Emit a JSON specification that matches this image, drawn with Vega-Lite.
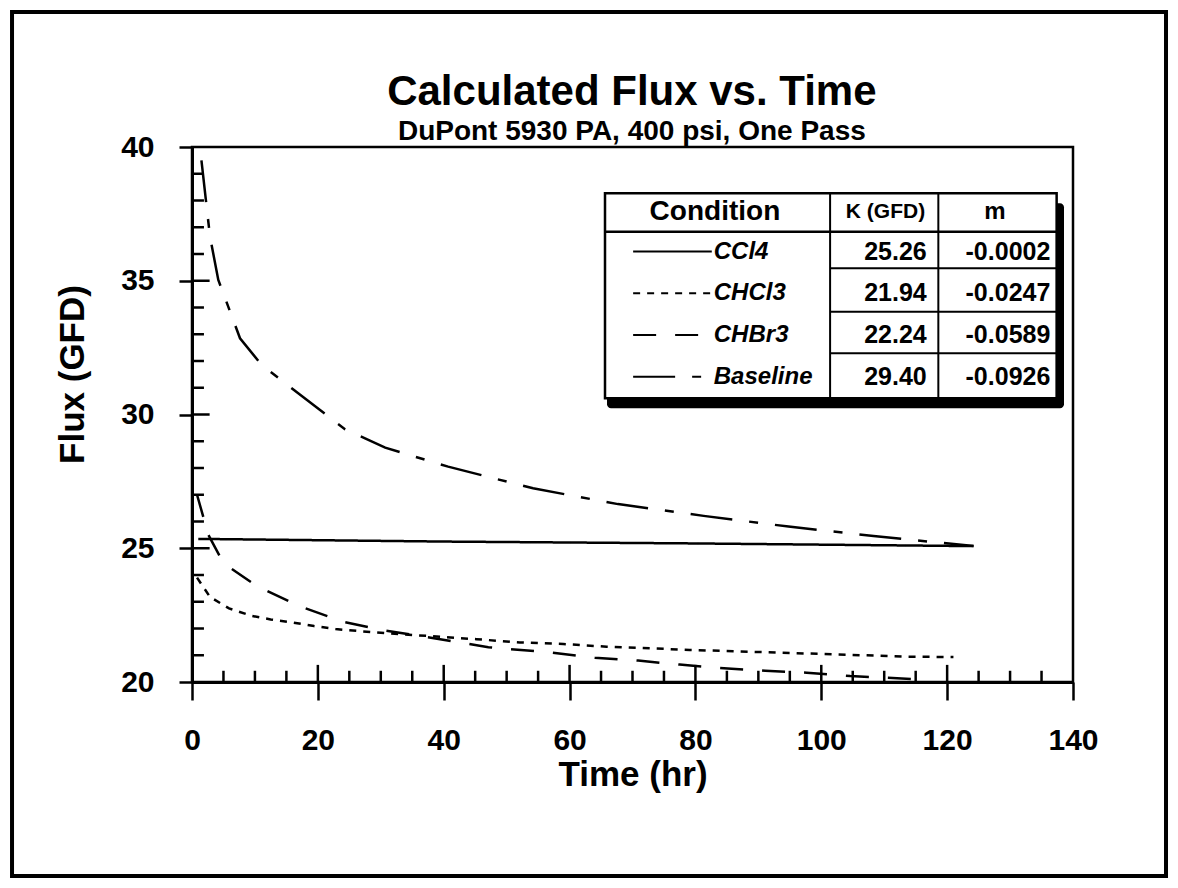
{
  "$schema": "https://vega.github.io/schema/vega-lite/v6.json",
  "width": 881,
  "height": 535,
  "autosize": {"type": "none"},
  "padding": {"left": 192, "top": 147, "right": 105, "bottom": 206},
  "background": "white",
  "config": {
    "view": {"stroke": "black", "strokeWidth": 2.5},
    "font": "Liberation Sans",
    "axis": {"grid": false, "domainColor": "black", "domainWidth": 3, "tickColor": "black", "tickWidth": 2.5, "labelColor": "black", "titleColor": "black", "labelFont": "Liberation Sans", "labelFontWeight": "bold", "labelFontSize": 30, "titleFont": "Liberation Sans", "titleFontWeight": "bold", "titleFontSize": 35, "labelFlush": false, "labelOverlap": false}
  },
  "datasets": {
    "series": [
      {"series": "CCl4", "t": 1.0, "flux": 25.35},
      {"series": "CCl4", "t": 40, "flux": 25.25},
      {"series": "CCl4", "t": 80, "flux": 25.18},
      {"series": "CCl4", "t": 124.2, "flux": 25.08},
      {"series": "CHCl3", "t": 0.8, "flux": 23.9},
      {"series": "CHCl3", "t": 2.86, "flux": 23.18},
      {"series": "CHCl3", "t": 5.88, "flux": 22.75},
      {"series": "CHCl3", "t": 9.5, "flux": 22.47},
      {"series": "CHCl3", "t": 12.5, "flux": 22.34},
      {"series": "CHCl3", "t": 15.9, "flux": 22.23},
      {"series": "CHCl3", "t": 19.4, "flux": 22.09},
      {"series": "CHCl3", "t": 22.8, "flux": 21.98},
      {"series": "CHCl3", "t": 26.2, "flux": 21.91},
      {"series": "CHCl3", "t": 30, "flux": 21.84},
      {"series": "CHCl3", "t": 35, "flux": 21.76},
      {"series": "CHCl3", "t": 40, "flux": 21.68},
      {"series": "CHCl3", "t": 45.2, "flux": 21.6},
      {"series": "CHCl3", "t": 52.1, "flux": 21.48},
      {"series": "CHCl3", "t": 59, "flux": 21.42},
      {"series": "CHCl3", "t": 65.9, "flux": 21.32},
      {"series": "CHCl3", "t": 72.8, "flux": 21.26},
      {"series": "CHCl3", "t": 79.1, "flux": 21.2},
      {"series": "CHCl3", "t": 86, "flux": 21.15},
      {"series": "CHCl3", "t": 92.9, "flux": 21.1},
      {"series": "CHCl3", "t": 99.8, "flux": 21.05},
      {"series": "CHCl3", "t": 106.7, "flux": 21.0},
      {"series": "CHCl3", "t": 113, "flux": 20.95},
      {"series": "CHCl3", "t": 121, "flux": 20.93},
      {"series": "CHBr3", "t": 0.8, "flux": 27.0},
      {"series": "CHBr3", "t": 2.6, "flux": 25.5},
      {"series": "CHBr3", "t": 5.0, "flux": 24.44},
      {"series": "CHBr3", "t": 10.3, "flux": 23.59},
      {"series": "CHBr3", "t": 17.0, "flux": 22.84},
      {"series": "CHBr3", "t": 24.0, "flux": 22.25},
      {"series": "CHBr3", "t": 30.7, "flux": 21.92},
      {"series": "CHBr3", "t": 37, "flux": 21.69},
      {"series": "CHBr3", "t": 44, "flux": 21.42},
      {"series": "CHBr3", "t": 47.1, "flux": 21.3},
      {"series": "CHBr3", "t": 57.2, "flux": 21.1},
      {"series": "CHBr3", "t": 64, "flux": 20.91},
      {"series": "CHBr3", "t": 70.9, "flux": 20.8},
      {"series": "CHBr3", "t": 77.5, "flux": 20.65},
      {"series": "CHBr3", "t": 83.9, "flux": 20.52},
      {"series": "CHBr3", "t": 91.1, "flux": 20.42},
      {"series": "CHBr3", "t": 97.7, "flux": 20.35},
      {"series": "CHBr3", "t": 104.6, "flux": 20.22},
      {"series": "CHBr3", "t": 110.6, "flux": 20.16},
      {"series": "CHBr3", "t": 117, "flux": 20.07},
      {"series": "Baseline", "t": 1.5, "flux": 39.5},
      {"series": "Baseline", "t": 2.86, "flux": 36.65},
      {"series": "Baseline", "t": 4.18, "flux": 35.03},
      {"series": "Baseline", "t": 7.63, "flux": 32.85},
      {"series": "Baseline", "t": 11.07, "flux": 31.85},
      {"series": "Baseline", "t": 15.84, "flux": 30.98},
      {"series": "Baseline", "t": 21.7, "flux": 29.92},
      {"series": "Baseline", "t": 24.3, "flux": 29.45},
      {"series": "Baseline", "t": 27.5, "flux": 29.11},
      {"series": "Baseline", "t": 30.7, "flux": 28.76},
      {"series": "Baseline", "t": 40.7, "flux": 28.05},
      {"series": "Baseline", "t": 54.2, "flux": 27.24},
      {"series": "Baseline", "t": 67.7, "flux": 26.65},
      {"series": "Baseline", "t": 81.3, "flux": 26.21},
      {"series": "Baseline", "t": 94.8, "flux": 25.81},
      {"series": "Baseline", "t": 108.3, "flux": 25.46},
      {"series": "Baseline", "t": 124.2, "flux": 25.08}
    ],
    "table": [
      {"series": "CCl4", "label": "CCl4", "K": "25.26", "m": "-0.0002", "row": 36.09},
      {"series": "CHCl3", "label": "CHCl3", "K": "21.94", "m": "-0.0247", "row": 34.53},
      {"series": "CHBr3", "label": "CHBr3", "K": "22.24", "m": "-0.0589", "row": 32.97},
      {"series": "Baseline", "label": "Baseline", "K": "29.40", "m": "-0.0926", "row": 31.41}
    ]
  },
  "layer": [
    {
      "data": {"name": "series"},
      "mark": {"type": "line", "color": "black", "strokeWidth": 2.5},
      "encoding": {
        "x": {"field": "t", "type": "quantitative", "scale": {"domain": [0, 140], "nice": false, "zero": false},
          "axis": {"title": "Time (hr)", "values": [0, 20, 40, 60, 80, 100, 120, 140], "tickSize": 18, "labelPadding": 25, "titlePadding": 2}},
        "y": {"field": "flux", "type": "quantitative", "scale": {"domain": [20, 40], "nice": false, "zero": false},
          "axis": {"title": "Flux (GFD)", "values": [20, 25, 30, 35, 40], "tickSize": 13, "labelPadding": 25, "titlePadding": 30, "titleY": 227}},
        "strokeDash": {"field": "series", "type": "nominal", "legend": null,
          "scale": {"domain": ["CCl4", "CHCl3", "CHBr3", "Baseline"], "range": [[1, 0], [7, 7], [23, 19], [42, 17, 9, 17]]}},
        "detail": {"field": "series"}
      }
    },
    {
      "data": {"values": [{}]},
      "mark": {"type": "rect", "fillOpacity": 0, "stroke": "black", "strokeWidth": 4},
      "encoding": {
        "x": {"datum": -28.6, "type": "quantitative"},
        "x2": {"datum": 154.78},
        "y": {"datum": 12.75, "type": "quantitative"},
        "y2": {"datum": 45.05}
      }
    },
    {
      "data": {"values": [{}]},
      "mark": {"type": "text", "text": "Calculated Flux vs. Time", "font": "Liberation Sans", "fontWeight": "bold", "fontSize": 42, "align": "center", "baseline": "alphabetic", "color": "black"},
      "encoding": {
        "x": {"datum": 69.9, "type": "quantitative"},
        "y": {"datum": 41.58, "type": "quantitative"}
      }
    },
    {
      "data": {"values": [{}]},
      "mark": {"type": "text", "text": "DuPont 5930 PA, 400 psi, One Pass", "font": "Liberation Sans", "fontWeight": "bold", "fontSize": 28, "align": "center", "baseline": "alphabetic", "color": "black"},
      "encoding": {
        "x": {"datum": 69.9, "type": "quantitative"},
        "y": {"datum": 40.26, "type": "quantitative"}
      }
    },
    {
      "data": {"values": [{"v": 21}, {"v": 22}, {"v": 23}, {"v": 24}, {"v": 26}, {"v": 27}, {"v": 28}, {"v": 29}, {"v": 31}, {"v": 32}, {"v": 33}, {"v": 34}, {"v": 36}, {"v": 37}, {"v": 38}, {"v": 39}]},
      "mark": {"type": "rule", "color": "black", "strokeWidth": 2.5},
      "encoding": {
        "y": {"field": "v", "type": "quantitative"},
        "x": {"datum": 0, "type": "quantitative"},
        "x2": {"datum": 1.9}
      }
    },
    {
      "data": {"values": [{"v": 25}, {"v": 30}, {"v": 35}]},
      "mark": {"type": "rule", "color": "black", "strokeWidth": 2.5},
      "encoding": {
        "y": {"field": "v", "type": "quantitative"},
        "x": {"datum": 0, "type": "quantitative"},
        "x2": {"datum": 2.8}
      }
    },
    {
      "data": {"values": [{"v": 5}, {"v": 10}, {"v": 15}, {"v": 25}, {"v": 30}, {"v": 35}, {"v": 45}, {"v": 50}, {"v": 55}, {"v": 65}, {"v": 70}, {"v": 75}, {"v": 85}, {"v": 90}, {"v": 95}, {"v": 105}, {"v": 110}, {"v": 115}, {"v": 125}, {"v": 130}, {"v": 135}]},
      "mark": {"type": "rule", "color": "black", "strokeWidth": 2.5},
      "encoding": {
        "x": {"field": "v", "type": "quantitative"},
        "y": {"datum": 20, "type": "quantitative"},
        "y2": {"datum": 20.42}
      }
    },
    {
      "data": {"values": [{"v": 20}, {"v": 40}, {"v": 60}, {"v": 80}, {"v": 100}, {"v": 120}]},
      "mark": {"type": "rule", "color": "black", "strokeWidth": 2.5},
      "encoding": {
        "x": {"field": "v", "type": "quantitative"},
        "y": {"datum": 20, "type": "quantitative"},
        "y2": {"datum": 20.64}
      }
    },
    {
      "data": {"values": [{}]},
      "mark": {"type": "rect", "fill": "black", "cornerRadius": 4},
      "encoding": {
        "x": {"datum": 65.95, "type": "quantitative"},
        "x2": {"datum": 138.57},
        "y": {"datum": 30.23, "type": "quantitative"},
        "y2": {"datum": 37.9}
      }
    },
    {
      "data": {"values": [{}]},
      "mark": {"type": "rect", "fill": "white", "stroke": "black", "strokeWidth": 2.5},
      "encoding": {
        "x": {"datum": 65.63, "type": "quantitative"},
        "x2": {"datum": 137.4},
        "y": {"datum": 30.61, "type": "quantitative"},
        "y2": {"datum": 38.27}
      }
    },
    {
      "data": {"values": [{}]},
      "mark": {"type": "rule", "color": "black", "strokeWidth": 2.5},
      "encoding": {
        "x": {"datum": 65.63, "type": "quantitative"},
        "x2": {"datum": 137.4},
        "y": {"datum": 36.83, "type": "quantitative"}
      }
    },
    {
      "data": {"values": [{"v": 35.47}, {"v": 33.84}, {"v": 32.29}]},
      "mark": {"type": "rule", "color": "black", "strokeWidth": 2},
      "encoding": {
        "x": {"datum": 101.4, "type": "quantitative"},
        "x2": {"datum": 137.4},
        "y": {"field": "v", "type": "quantitative"}
      }
    },
    {
      "data": {"values": [{"v": 101.4}, {"v": 118.6}]},
      "mark": {"type": "rule", "color": "black", "strokeWidth": 2},
      "encoding": {
        "x": {"field": "v", "type": "quantitative"},
        "y": {"datum": 30.61, "type": "quantitative"},
        "y2": {"datum": 38.27}
      }
    },
    {
      "data": {"values": [{}]},
      "mark": {"type": "text", "text": "Condition", "font": "Liberation Sans", "fontWeight": "bold", "fontSize": 28, "align": "center", "baseline": "middle", "color": "black"},
      "encoding": {
        "x": {"datum": 83.1, "type": "quantitative"},
        "y": {"datum": 37.58, "type": "quantitative"}
      }
    },
    {
      "data": {"values": [{}]},
      "mark": {"type": "text", "text": "K (GFD)", "font": "Liberation Sans", "fontWeight": "bold", "fontSize": 21, "align": "center", "baseline": "middle", "color": "black"},
      "encoding": {
        "x": {"datum": 110.2, "type": "quantitative"},
        "y": {"datum": 37.58, "type": "quantitative"}
      }
    },
    {
      "data": {"values": [{}]},
      "mark": {"type": "text", "text": "m", "font": "Liberation Sans", "fontWeight": "bold", "fontSize": 24, "align": "center", "baseline": "middle", "color": "black"},
      "encoding": {
        "x": {"datum": 127.6, "type": "quantitative"},
        "y": {"datum": 37.58, "type": "quantitative"}
      }
    },
    {
      "data": {"name": "table"},
      "mark": {"type": "rule", "color": "black", "strokeWidth": 2},
      "encoding": {
        "x": {"datum": 70.1, "type": "quantitative"},
        "x2": {"datum": 82.6},
        "y": {"field": "row", "type": "quantitative"},
        "strokeDash": {"field": "series", "type": "nominal", "legend": null}
      }
    },
    {
      "data": {"name": "table"},
      "mark": {"type": "text", "font": "Liberation Sans", "fontWeight": "bold", "fontStyle": "italic", "fontSize": 24, "align": "left", "baseline": "middle", "color": "black", "dx": 2},
      "encoding": {
        "x": {"datum": 82.6, "type": "quantitative"},
        "y": {"field": "row", "type": "quantitative"},
        "text": {"field": "label"}
      }
    },
    {
      "data": {"name": "table"},
      "mark": {"type": "text", "font": "Liberation Sans", "fontWeight": "bold", "fontSize": 25, "align": "right", "baseline": "middle", "color": "black"},
      "encoding": {
        "x": {"datum": 116.75, "type": "quantitative"},
        "y": {"field": "row", "type": "quantitative"},
        "text": {"field": "K"}
      }
    },
    {
      "data": {"name": "table"},
      "mark": {"type": "text", "font": "Liberation Sans", "fontWeight": "bold", "fontSize": 25, "align": "right", "baseline": "middle", "color": "black"},
      "encoding": {
        "x": {"datum": 136.4, "type": "quantitative"},
        "y": {"field": "row", "type": "quantitative"},
        "text": {"field": "m"}
      }
    }
  ]
}
